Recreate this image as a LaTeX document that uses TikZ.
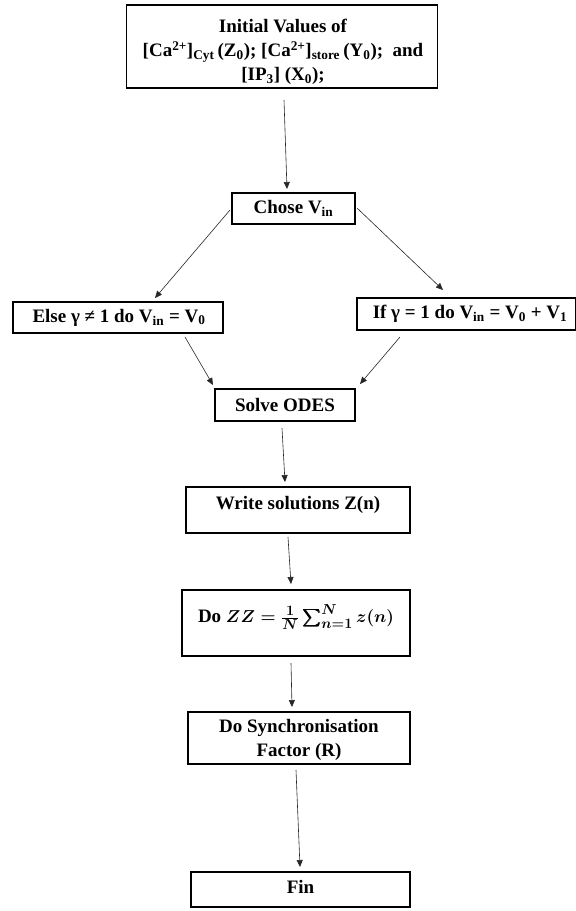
\documentclass[tikz,border=0pt]{standalone}
\usepackage{amsmath,bm}
\usepackage{fontspec}
\setmainfont{Liberation Serif}
\usetikzlibrary{arrows.meta}
\tikzset{
  box/.style={draw=black, line width=1.2pt, rectangle, inner sep=0pt, fill=white},
  txt/.style={font=\fontsize{19}{24}\selectfont\bfseries, align=center, inner sep=0pt},
  conn/.style={draw=black!85, line width=0.6pt, -{Triangle[length=7pt,width=6pt]}}
}
\begin{document}
\begin{tikzpicture}[x=1pt,y=-1pt]
\useasboundingbox (0,0) rectangle (576,911);
% boxes
\node[box, minimum width=311pt, minimum height=83pt] (init) at (282,46.5) {};
\node[txt] (initt) at (283,52) {Initial Values of\\{}%
[Ca\textsuperscript{2+}]\textsubscript{Cyt}\,(Z\textsubscript{0}); [Ca\textsuperscript{2+}]\textsubscript{store}\,(Y\textsubscript{0});\ \ and\\{}%
[IP\textsubscript{3}] (X\textsubscript{0});};
\node[box, minimum width=123pt, minimum height=31pt] (chose) at (293.5,208.5) {};
\node[txt] (choset) at (293.5,208.5) {Chose V\textsubscript{in}};
\node[box, minimum width=210pt, minimum height=31pt] (else) at (118,317.5) {};
\node[txt] (elset) at (119,317.5) {Else γ ≠ 1 do V\textsubscript{in} = V\textsubscript{0}};
\node[box, minimum width=219pt, minimum height=32pt] (if) at (466.5,314) {};
\node[txt] (ift) at (470,314) {If γ = 1 do V\textsubscript{in} = V\textsubscript{0} + V\textsubscript{1}};
\node[box, minimum width=140pt, minimum height=32pt] (solve) at (285,405) {};
\node[txt] (solvet) at (285,405) {Solve ODES};
\node[box, minimum width=224pt, minimum height=46pt] (write) at (298,510) {};
\node[txt] (writet) at (298,505) {Write solutions Z(n)};
\node[box, minimum width=228pt, minimum height=66pt] (zz) at (296,623) {};
\node[txt] (zzt) at (296,617) {Do {\mathversion{bold}$\bm{ZZ=\frac{1}{N}\sum_{n=1}^{N} z(n)}$}};
\node[box, minimum width=222pt, minimum height=52pt] (sync) at (299,738) {};
\node[txt] (synct) at (299,740) {Do Synchronisation\\Factor (R)};
\node[box, minimum width=219pt, minimum height=35pt] (fin) at (300.5,889.5) {};
\node[txt] (fint) at (300.5,887) {Fin};
% connector end points
\coordinate (a1s) at (284,100); \coordinate (a1e) at (287,189);
\coordinate (a2s) at (230,210); \coordinate (a2e) at (155,298);
\coordinate (a3s) at (357,208); \coordinate (a3e) at (443,290);
\coordinate (a4s) at (185,337); \coordinate (a4e) at (213,385);
\coordinate (a5s) at (400,337); \coordinate (a5e) at (360,384);
\coordinate (a6s) at (282,428); \coordinate (a6e) at (285,482);
\coordinate (a7s) at (288,537); \coordinate (a7e) at (291,584);
\coordinate (a8s) at (291,663); \coordinate (a8e) at (292,707);
\coordinate (a9s) at (296,770); \coordinate (a9e) at (300,867);
\draw[conn] (a1s) -- (a1e);
\draw[conn] (a2s) -- (a2e);
\draw[conn] (a3s) -- (a3e);
\draw[conn] (a4s) -- (a4e);
\draw[conn] (a5s) -- (a5e);
\draw[conn] (a6s) -- (a6e);
\draw[conn] (a7s) -- (a7e);
\draw[conn] (a8s) -- (a8e);
\draw[conn] (a9s) -- (a9e);
\end{tikzpicture}
\end{document}
